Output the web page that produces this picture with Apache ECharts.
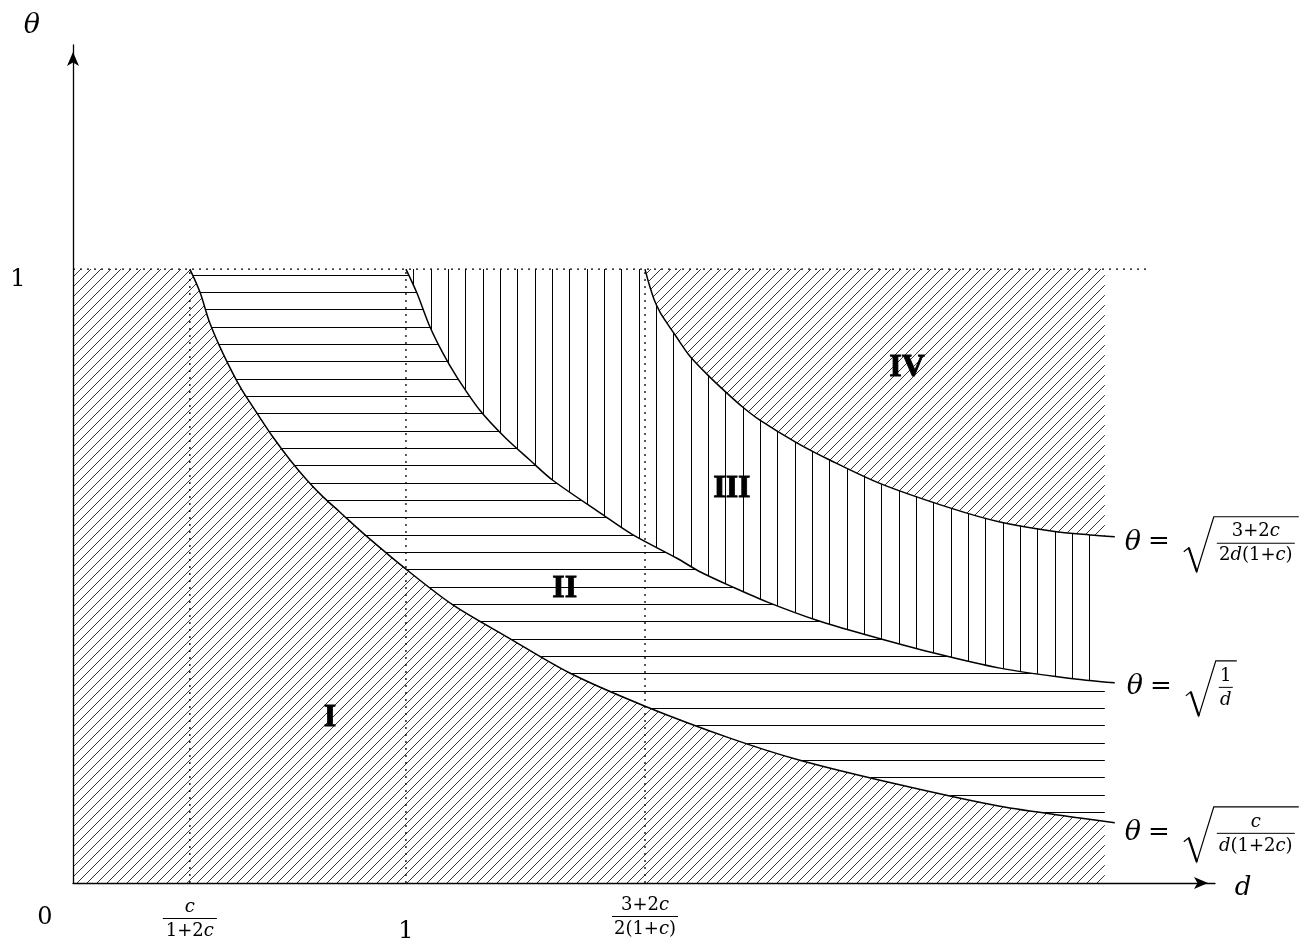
<!DOCTYPE html>
<html>
<head>
<meta charset="utf-8">
<script src="https://cdn.jsdelivr.net/npm/echarts@6/dist/echarts.min.js"></script>
<style>
  html, body { margin: 0; padding: 0; background: #fff; }
  #main { width: 1301px; height: 949px; }
</style>
</head>
<body>
<div id="main"></div>
<script>
// tick positions on the d axis: c/(1+2c), 1, (3+2c)/(2(1+c))
const dTicks = [0.351, 1, 1.718]
const xTickLabels = [
  { num: '{i|c}', den: '{r|1+2}{i|c}' },
  '1',
  { num: '{r|3+2}{i|c}', den: '{r|2(1+}{i|c}{r|)}' }
]
const thetaTop = 1
const hatchEnd = 3.099
const dottedEnd = 3.234
const dMax = 3.43
const thetaMax = 1.365

// boundary curves, [d, theta]
const lowCurve = [
  [0.351, 1.000], [0.381, 0.963], [0.411, 0.912], [0.450, 0.863], [0.502, 0.808],
  [0.553, 0.765], [0.601, 0.726], [0.652, 0.689], [0.703, 0.656], [0.751, 0.629],
  [0.802, 0.604], [0.871, 0.570], [1.003, 0.510], [1.141, 0.453], [1.303, 0.401],
  [1.492, 0.342], [1.718, 0.288], [1.973, 0.236], [2.183, 0.200], [2.483, 0.160],
  [2.784, 0.125], [3.024, 0.106], [3.129, 0.098]
]
const midCurve = [
  [1.000, 1.000], [1.033, 0.961], [1.072, 0.906], [1.111, 0.863], [1.153, 0.824],
  [1.222, 0.770], [1.297, 0.726], [1.372, 0.689], [1.441, 0.656], [1.583, 0.603],
  [1.682, 0.567], [1.814, 0.529], [1.883, 0.507], [1.982, 0.482], [2.084, 0.458],
  [2.234, 0.428], [2.384, 0.404], [2.583, 0.375], [2.784, 0.350], [2.985, 0.334],
  [3.129, 0.326]
]
const highCurve = [
  [1.718, 1.000], [1.730, 0.976], [1.745, 0.951], [1.763, 0.930], [1.784, 0.912],
  [1.808, 0.893], [1.853, 0.858], [1.913, 0.824], [1.964, 0.798], [2.012, 0.775],
  [2.063, 0.754], [2.174, 0.717], [2.273, 0.689], [2.423, 0.651], [2.634, 0.611],
  [2.784, 0.588], [2.943, 0.573], [3.054, 0.567], [3.129, 0.564]
]

const regionLabels = [
  { name: 'I', at: [0.772, 0.269] },
  { name: 'II', at: [1.477, 0.479] },
  { name: 'III', at: [1.979, 0.643] },
  { name: 'IV', at: [2.505, 0.839] }
]

const curveFormulas = [
  { curve: highCurve, num: '{r|3+2}{i|c}', den: '{r|2}{i|d}{r|(1+}{i|c}{r|)}' },
  { curve: midCurve, num: '{r|1}', den: '{i|d}' },
  { curve: lowCurve, num: '{i|c}', den: '{i|d}{r|(1+2}{i|c}{r|)}' }
]

const SERIF = 'DejaVu Serif'

// hatch patterns
const hatch = (size, draw) => {
  const c = document.createElement('canvas')
  c.width = size
  c.height = size
  draw(c.getContext('2d'), size)
  return { image: c, repeat: 'repeat' }
}
const diagonalFill = hatch(10, (ctx, p) => {
  ctx.strokeStyle = '#000'
  ctx.lineWidth = 0.8
  ctx.beginPath()
  for (const k of [-p, 0, p]) {
    ctx.moveTo(k - 1, p + 1)
    ctx.lineTo(k + p + 1, -1)
  }
  ctx.stroke()
})
const horizontalFill = hatch(52, (ctx, p) => {
  ctx.fillStyle = '#000';
  [15, 32, 49].forEach(y => ctx.fillRect(0, y, p, 1))
})
const verticalFill = hatch(52, (ctx, p) => {
  ctx.fillStyle = '#000';
  [15, 32, 49].forEach(x => ctx.fillRect(x, 0, 1, p))
})

// cut a curve at d = end
const cutAt = (pts, end) => {
  const out = pts.filter(p => p[0] < end)
  const i = pts.findIndex(p => p[0] >= end)
  if (i > 0) {
    const a = pts[i - 1], b = pts[i]
    const t = (end - a[0]) / (b[0] - a[0])
    out.push([end, a[1] + t * (b[1] - a[1])])
  }
  return out
}

const low = cutAt(lowCurve, hatchEnd)
const mid = cutAt(midCurve, hatchEnd)
const high = cutAt(highCurve, hatchEnd)

const regions = [
  { fill: diagonalFill, poly: [[0, 0], [0, thetaTop], ...low, [hatchEnd, 0]] },
  { fill: horizontalFill, poly: [...low, ...mid.slice().reverse()] },
  { fill: verticalFill, poly: [...mid, ...high.slice().reverse()] },
  { fill: diagonalFill, poly: [...high, [hatchEnd, thetaTop]] }
]

const regionSeries = regions.map(r => ({
  type: 'custom',
  silent: true,
  z: 1,
  data: [0],
  renderItem: (params, api) => ({
    type: 'polygon',
    shape: { points: r.poly.map(p => api.coord(p)) },
    style: { fill: r.fill, stroke: null }
  })
}))

const dotted = { color: '#000', width: 1.3, type: [2, 5] }
const guideSeries = [
  ...dTicks.map(d => [[d, 0], [d, thetaTop]]),
  [[0, thetaTop], [dottedEnd, thetaTop]]
].map(seg => ({
  type: 'line',
  silent: true,
  z: 3,
  data: seg,
  showSymbol: false,
  lineStyle: dotted
}))

const curveSeries = [lowCurve, midCurve, highCurve].map(c => ({
  type: 'line',
  silent: true,
  z: 4,
  data: c,
  smooth: 0.3,
  showSymbol: false,
  lineStyle: { color: '#000', width: 1.5 }
}))

const axisStyle = {
  show: true,
  symbol: ['none', 'arrow'],
  symbolSize: [9, 14],
  symbolOffset: [0, -7],
  lineStyle: { color: '#000', width: 1.3 }
}

const chart = echarts.init(document.getElementById('main'))
chart.setOption({
  animation: false,
  backgroundColor: '#fff',
  grid: { left: 73, right: 86, top: 45, bottom: 66 },
  xAxis: {
    type: 'value', min: 0, max: dMax,
    axisLine: axisStyle, axisTick: { show: false }, axisLabel: { show: false },
    splitLine: { show: false }
  },
  yAxis: {
    type: 'value', min: 0, max: thetaMax,
    axisLine: axisStyle, axisTick: { show: false }, axisLabel: { show: false },
    splitLine: { show: false }
  },
  series: [
    ...regionSeries,
    ...guideSeries,
    ...curveSeries,
    {
      type: 'scatter',
      silent: true,
      z: 5,
      symbolSize: 1,
      itemStyle: { color: 'rgba(0,0,0,0)', opacity: 1 },
      data: regionLabels.map(r => ({ name: r.name, value: r.at })),
      label: {
        show: true,
        position: 'inside',
        formatter: '{b}',
        fontFamily: 'Liberation Serif',
        fontWeight: 'bold',
        fontSize: 32,
        color: '#000',
        opacity: 1,
        textBorderColor: '#000',
        textBorderWidth: 0.8
      }
    }
  ]
})

// math text drawn as graphic, anchored to pixels of the axes
const px = p => chart.convertToPixel({ gridIndex: 0 }, p)
const mathRich = {
  r: { fontFamily: SERIF, fontSize: 18, fill: '#000' },
  i: { fontFamily: SERIF, fontStyle: 'italic', fontSize: 18, fill: '#000' }
}
const mathText = (x, y, text, extra) => ({
  type: 'text', x, y, silent: true, z: 10,
  style: Object.assign({ text, rich: mathRich, align: 'center', verticalAlign: 'middle', fill: '#000' }, extra || {})
})
const fraction = (cx, cy, num, den, w) => [
  mathText(cx, cy - 11, num),
  { type: 'line', silent: true, z: 10, shape: { x1: cx - w / 2, y1: cy + 0.5, x2: cx + w / 2, y2: cy + 0.5 }, style: { stroke: '#000', lineWidth: 1 } },
  mathText(cx, cy + 13, den)
]
const rootFormula = (x0, y0, num, den, w) => {
  const sx = x0 + 51
  const top = y0 - 26
  return [
    mathText(x0, y0, 'θ', { fontFamily: SERIF, fontStyle: 'italic', fontSize: 27 }),
    mathText(x0 + 26, y0, '=', { fontFamily: SERIF, fontSize: 26 }),
    {
      type: 'polyline', silent: true, z: 10,
      shape: { points: [[sx, y0 + 9], [sx + 5, y0 + 5], [sx + 13, y0 + 29], [sx + 30, top], [sx + 37 + w, top]] },
      style: { stroke: '#000', lineWidth: 1.2, fill: null }
    },
    {
      type: 'line', silent: true, z: 10,
      shape: { x1: sx + 5, y1: y0 + 5, x2: sx + 13, y2: y0 + 29 },
      style: { stroke: '#000', lineWidth: 2.2 }
    },
    ...fraction(sx + 33 + w / 2, y0, num, den, w)
  ]
}

const formulaLayout = [
  { dx: 18, dy: 6, w: 78 },
  { dx: 20, dy: 4, w: 14 },
  { dx: 18, dy: 10, w: 78 }
]
const graphics = []
curveFormulas.forEach((f, k) => {
  const end = px(f.curve[f.curve.length - 1])
  const l = formulaLayout[k]
  graphics.push(...rootFormula(end[0] + l.dx, end[1] + l.dy, f.num, f.den, l.w))
})

// axis names
const yEnd = px([0, thetaMax])
graphics.push(mathText(yEnd[0] - 41, yEnd[1] - 19, 'θ', { fontFamily: SERIF, fontStyle: 'italic', fontSize: 27 }))
const xEnd = px([dMax, 0])
graphics.push(mathText(xEnd[0] + 28, xEnd[1] + 5, 'd', { fontFamily: SERIF, fontStyle: 'italic', fontSize: 26 }))

// tick labels
const origin = px([0, 0])
graphics.push(mathText(origin[0] - 28, origin[1] + 35, '0', { fontFamily: SERIF, fontSize: 24 }))
const yOne = px([0, thetaTop])
graphics.push(mathText(yOne[0] - 55, yOne[1] + 11, '1', { fontFamily: SERIF, fontSize: 24 }))
const tickLayout = [{ dy: 35, w: 54 }, { dy: 49 }, { dy: 33, w: 66 }]
dTicks.forEach((d, k) => {
  const p = px([d, 0])
  const lab = xTickLabels[k]
  if (typeof lab === 'string') {
    graphics.push(mathText(p[0], p[1] + tickLayout[k].dy, lab, { fontFamily: SERIF, fontSize: 24 }))
  } else {
    graphics.push(...fraction(p[0], p[1] + tickLayout[k].dy, lab.num, lab.den, tickLayout[k].w))
  }
})

chart.setOption({ graphic: graphics })
</script>
</body>
</html>
